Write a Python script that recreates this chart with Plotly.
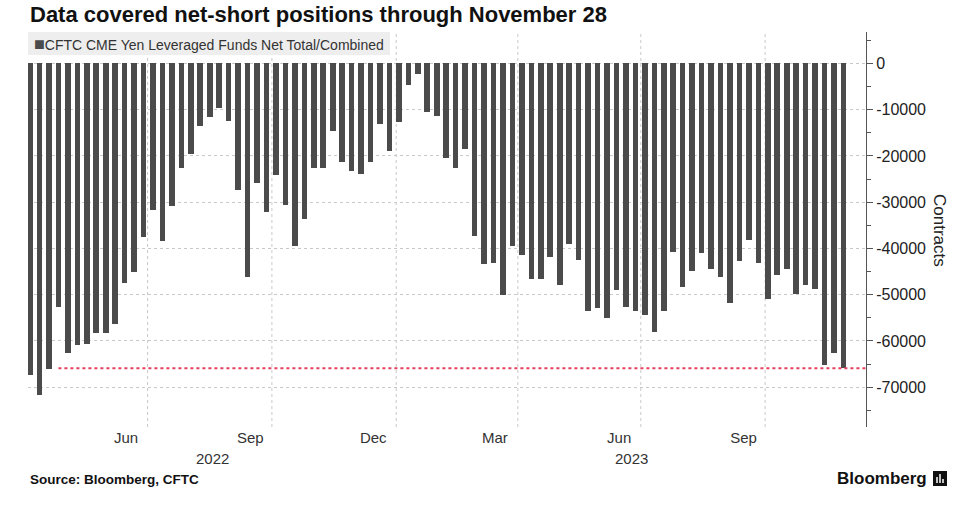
import plotly.graph_objects as go
import pandas as pd

# ---------------- data ----------------
weeks = pd.date_range("2022-04-05", "2023-11-28", freq="7D")  # CFTC report dates (Tuesdays)
net_positions = [
    -67300, -71700, -66000, -52600, -62500, -60900, -60600, -58200, -58200, -56400,
    -47500, -45000, -37500, -31700, -38400, -30900, -22700, -19500, -13600, -11500,
    -9700, -12400, -27400, -46200, -25900, -32200, -24100, -30700, -39400, -33600,
    -22700, -22700, -14600, -21400, -23200, -23800, -21400, -13100, -18900, -12700,
    -4700, -2200, -10400, -11300, -20400, -22600, -18400, -37300, -43400, -43200,
    -50100, -39500, -41400, -46500, -46500, -41900, -48000, -39000, -42500, -53500,
    -52900, -55100, -48900, -52700, -53600, -54300, -58100, -53600, -40700, -48400,
    -44900, -40900, -44500, -46200, -51700, -42700, -38200, -43100, -50900, -45700,
    -44500, -49800, -47800, -48800, -65300, -62700, -65900,
]
current_level = net_positions[-1]
level_line_start = "2022-04-26"

month_label_dates = ["2022-06-15", "2022-09-15", "2022-12-15",
                     "2023-03-15", "2023-06-15", "2023-09-15"]
month_labels = ["Jun", "Sep", "Dec", "Mar", "Jun", "Sep"]
grid_dates = ["2022-07-01", "2022-10-01", "2023-01-01",
              "2023-04-01", "2023-07-01", "2023-10-01"]
year_labels = ["2022", "2023"]
year_starts = ["2023-01-01"]
y_ticks = [0, -10000, -20000, -30000, -40000, -50000, -60000, -70000]
y_tick_text = [str(v) for v in y_ticks]

series_name = "CFTC CME Yen Leveraged Funds Net Total/Combined"
title_text = "Data covered net-short positions through November 28"

# ---------------- layout geometry ----------------
W, H = 975, 509
ML, MR, MT, MB = 28, 109, 32, 82
PW, PH = W - ML - MR, H - MT - MB
x_range = ["2022-04-03 12:00", "2023-12-14 16:00"]
y_range = [-78600, 6800]


def px_x(px):
    return (px - ML) / PW


def px_y(py):
    return (H - MB - py) / PH


bar_color = "#4b4b4b"
grid_color = "#c9c9c9"

fig = go.Figure()
fig.add_trace(go.Bar(
    x=weeks, y=net_positions, name=series_name,
    width=4.15 * 86400000,
    marker=dict(color=bar_color, line=dict(width=0)),
    showlegend=False,
))
fig.add_trace(go.Scatter(
    x=[level_line_start, x_range[1]], y=[current_level, current_level],
    mode="lines", line=dict(color="#e6405e", width=2, dash="dot"),
    showlegend=False, hoverinfo="skip",
))

shapes = []
for d in grid_dates:
    shapes.append(dict(type="line", xref="x", yref="paper", x0=d, x1=d, y0=0, y1=1,
                       line=dict(color=grid_color, width=1, dash="dot"), layer="below"))

# Bloomberg logo icon
shapes.append(dict(type="rect", xref="paper", yref="paper",
                   x0=px_x(933), x1=px_x(947), y0=px_y(486), y1=px_y(471),
                   fillcolor="#111111", line=dict(width=0)))
for bx, top in [(937, 477), (940, 474), (943, 479)]:
    shapes.append(dict(type="line", xref="paper", yref="paper",
                       x0=px_x(bx), x1=px_x(bx), y0=px_y(483), y1=px_y(top),
                       line=dict(color="white", width=1.5)))

# year label positions: middle of each year's span on the axis
bounds = [pd.Timestamp(x_range[0])] + [pd.Timestamp(s) for s in year_starts] + [pd.Timestamp(x_range[1])]
year_mid = [bounds[i] + (bounds[i + 1] - bounds[i]) / 2 for i in range(len(year_labels))]

font_family = "Liberation Sans, Arial, sans-serif"
annotations = [
    dict(text="<b>" + title_text + "</b>", xref="paper", yref="paper",
         x=0, y=px_y(15), xanchor="left", yanchor="middle", showarrow=False,
         font=dict(size=22, color="#111111", family=font_family)),
    dict(text="&nbsp;<span style='color:%s;font-size:18px'>■</span>%s" % (bar_color, series_name),
         xref="paper", yref="paper", x=0, y=1, xanchor="left", yanchor="top",
         showarrow=False, align="left", width=358, height=19, borderpad=2, borderwidth=0,
         bgcolor="#eeeeee", font=dict(size=14, color="#333333", family=font_family)),
    dict(text="Contracts", xref="paper", yref="paper", x=px_x(940), y=px_y(230),
         xanchor="center", yanchor="middle", textangle=90, showarrow=False,
         font=dict(size=17, color="#222222", family=font_family)),
    dict(text="<b>Source: Bloomberg, CFTC</b>", xref="paper", yref="paper",
         x=0, y=px_y(479), xanchor="left", yanchor="middle", showarrow=False,
         font=dict(size=13.5, color="#111111", family=font_family)),
    dict(text="<b>Bloomberg</b>", xref="paper", yref="paper",
         x=px_x(929), y=px_y(478), xanchor="right", yanchor="middle", showarrow=False,
         font=dict(size=17, color="#111111", family=font_family)),
]
for lab, mid in zip(year_labels, year_mid):
    annotations.append(dict(text=lab, xref="x", yref="paper", x=mid, y=px_y(458),
                            xanchor="center", yanchor="middle", showarrow=False,
                            font=dict(size=15, color="#333333", family=font_family)))

fig.update_layout(
    width=W, height=H,
    margin=dict(l=ML, r=MR, t=MT, b=MB, pad=0),
    paper_bgcolor="white", plot_bgcolor="white",
    font=dict(family=font_family, color="#333333"),
    bargap=0,
    shapes=shapes,
    annotations=annotations,
    xaxis=dict(type="date", range=x_range, tickmode="array",
               tickvals=month_label_dates, ticktext=month_labels,
               showgrid=False, zeroline=False, showline=False, ticks="",
               tickfont=dict(size=15, color="#333333")),
    yaxis=dict(side="right", range=y_range, tickmode="array",
               tickvals=y_ticks, ticktext=y_tick_text,
               showgrid=True, gridcolor=grid_color, griddash="dot", gridwidth=1,
               zeroline=False, showline=True, linecolor="#555555", linewidth=1,
               ticks="outside", ticklen=6, tickcolor="#555555",
               tickfont=dict(size=16, color="#222222"),
               minor=dict(tickmode="linear", tick0=0, dtick=5000, ticks="outside",
                          ticklen=4, tickcolor="#555555", showgrid=False)),
)

fig.write_html("out.html")
